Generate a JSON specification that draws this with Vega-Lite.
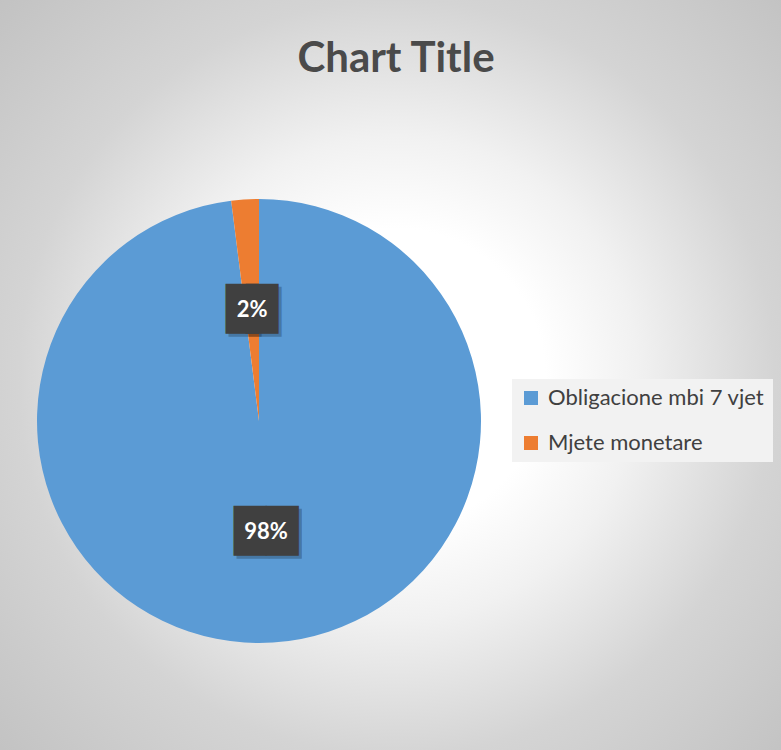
{
  "$schema": "https://vega.github.io/schema/vega-lite/v6.json",
  "autosize": "none",
  "width": 444,
  "height": 444,
  "padding": {"left": 37, "top": 199, "right": 300, "bottom": 107},
  "background": "#ffffff",
  "config": {"view": {"stroke": null}},
  "title": {"text": "Chart Title", "font": "Lato", "fontSize": 42, "fontWeight": "bold", "color": "#4a4a4a", "anchor": "middle", "dx": 137, "offset": 0, "baseline": "alphabetic", "dy": 393},
  "data": {"values": [
    {"category": "Obligacione mbi 7 vjet", "share": 0.98},
    {"category": "Mjete monetare", "share": 0.02}
  ]},
  "layer": [
    {
      "data": {"values": [{}]},
      "mark": {"type": "arc", "radius": 700, "theta": 0, "theta2": 6.2832,
        "fill": {"gradient": "radial", "x1": 0.598, "y1": 0.469, "r1": 0, "x2": 0.598, "y2": 0.469, "r2": 0.443,
          "stops": [
            {"offset": 0, "color": "#ffffff"},
            {"offset": 0.24, "color": "#ffffff"},
            {"offset": 0.39, "color": "#f1f1f1"},
            {"offset": 0.61, "color": "#d4d4d4"},
            {"offset": 0.855, "color": "#c4c4c4"},
            {"offset": 1, "color": "#bcbcbc"}
          ]}},
      "encoding": {}
    },
    {
      "mark": {"type": "arc", "outerRadius": 222},
      "encoding": {
        "theta": {"field": "share", "type": "quantitative", "stack": true},
        "order": {"field": "share", "sort": "descending"},
        "color": {"field": "category", "type": "nominal",
          "scale": {"domain": ["Obligacione mbi 7 vjet", "Mjete monetare"], "range": ["#5B9BD5", "#ED7D31"]},
          "legend": {"title": null, "orient": "none", "legendX": 475, "legendY": 180,
            "labelFont": "Lato", "labelFontSize": 22, "labelColor": "#404040",
            "symbolType": "square", "symbolSize": 196, "symbolStrokeWidth": 0,
            "rowPadding": 23, "padding": 8, "fillColor": "#f2f2f2", "labelOffset": 6, "labelLimit": 400}}
      }
    },
    {
      "mark": {"type": "text", "radius": 111, "font": "DejaVu Sans", "fontSize": 42, "color": "#000000", "opacity": 0.22, "baseline": "middle", "dx": -7, "dy": 3},
      "encoding": {
        "theta": {"field": "share", "type": "quantitative", "stack": true},
        "order": {"field": "share", "sort": "descending"},
        "text": {"condition": {"test": "datum.share < 0.5", "value": "█"}, "value": ""}
      }
    },
    {
      "mark": {"type": "text", "radius": 111, "font": "DejaVu Sans", "fontSize": 42, "color": "#000000", "opacity": 0.22, "baseline": "middle", "dx": 13, "dy": 3},
      "encoding": {
        "theta": {"field": "share", "type": "quantitative", "stack": true},
        "order": {"field": "share", "sort": "descending"},
        "text": {"condition": {"test": "datum.share < 0.5", "value": "█"}, "value": ""}
      }
    },
    {
      "mark": {"type": "text", "radius": 111, "font": "DejaVu Sans", "fontSize": 42, "color": "#000000", "opacity": 0.22, "baseline": "middle", "dx": 3, "dy": 3},
      "encoding": {
        "theta": {"field": "share", "type": "quantitative", "stack": true},
        "order": {"field": "share", "sort": "descending"},
        "text": {"condition": {"test": "datum.share < 0.5", "value": ""}, "value": "██"}
      }
    },
    {
      "mark": {"type": "text", "radius": 111, "font": "DejaVu Sans", "fontSize": 42, "color": "#404040", "baseline": "middle", "dx": -10},
      "encoding": {
        "theta": {"field": "share", "type": "quantitative", "stack": true},
        "order": {"field": "share", "sort": "descending"},
        "text": {"condition": {"test": "datum.share < 0.5", "value": "█"}, "value": ""}
      }
    },
    {
      "mark": {"type": "text", "radius": 111, "font": "DejaVu Sans", "fontSize": 42, "color": "#404040", "baseline": "middle", "dx": 10},
      "encoding": {
        "theta": {"field": "share", "type": "quantitative", "stack": true},
        "order": {"field": "share", "sort": "descending"},
        "text": {"condition": {"test": "datum.share < 0.5", "value": "█"}, "value": ""}
      }
    },
    {
      "mark": {"type": "text", "radius": 111, "font": "DejaVu Sans", "fontSize": 42, "color": "#404040", "baseline": "middle"},
      "encoding": {
        "theta": {"field": "share", "type": "quantitative", "stack": true},
        "order": {"field": "share", "sort": "descending"},
        "text": {"condition": {"test": "datum.share < 0.5", "value": ""}, "value": "██"}
      }
    },
    {
      "mark": {"type": "text", "radius": 111, "font": "Lato", "fontSize": 22, "fontWeight": "bold", "color": "#ffffff", "baseline": "middle"},
      "encoding": {
        "theta": {"field": "share", "type": "quantitative", "stack": true},
        "order": {"field": "share", "sort": "descending"},
        "text": {"field": "share", "type": "quantitative", "format": ".0%"}
      }
    }
  ]
}
